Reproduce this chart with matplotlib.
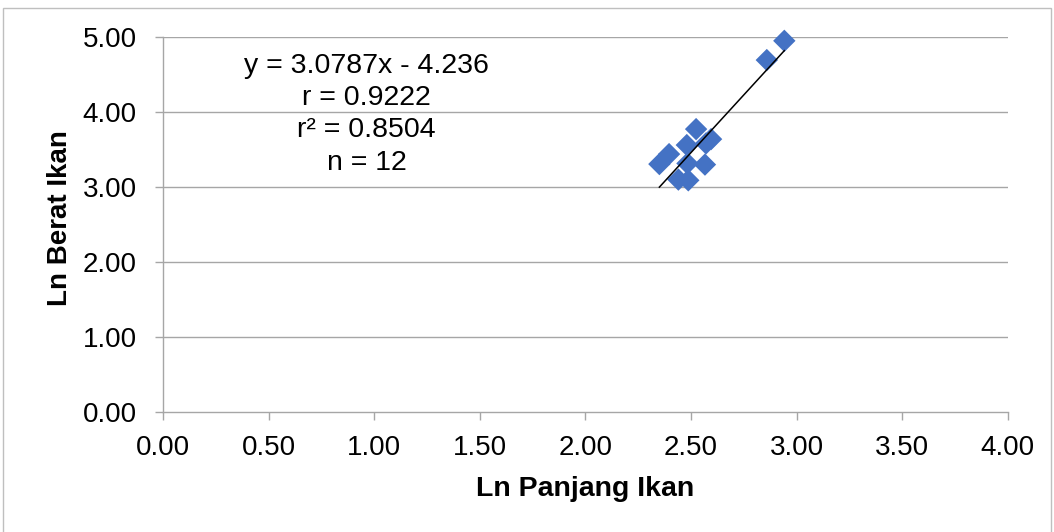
import matplotlib.pyplot as plt
from matplotlib.patches import Rectangle

plt.rcParams['font.family'] = ['Liberation Sans', 'DejaVu Sans']

# ln of fish length and weight (12 fish)
ln_panjang = [2.942, 2.859, 2.524, 2.595, 2.571, 2.480, 2.396, 2.350, 2.483, 2.566, 2.440, 2.487]
ln_berat = [4.953, 4.696, 3.774, 3.640, 3.583, 3.561, 3.440, 3.307, 3.316, 3.300, 3.100, 3.090]

# regression results
slope = 3.0787
intercept = -4.236
r_value = 0.9222
r_squared = 0.8504

x_ticks = [0.0, 0.5, 1.0, 1.5, 2.0, 2.5, 3.0, 3.5, 4.0]
y_ticks = [0.0, 1.0, 2.0, 3.0, 4.0, 5.0]

fig = plt.figure(figsize=(10.54, 5.32), dpi=100)
ax = fig.add_axes([0.155, 0.2261, 0.801, 0.7038])

grid_col = '#a6a6a6'
for yv in y_ticks[1:]:
    ax.axhline(yv, color=grid_col, lw=1.0, zorder=0)

ax.scatter(ln_panjang, ln_berat, marker='D', s=130, color='#4472c4',
           edgecolors='none', zorder=3, clip_on=False)

# trend line over the range of the data
x0, x1 = min(ln_panjang), max(ln_panjang)
ax.plot([x0, x1], [slope * x0 + intercept, slope * x1 + intercept],
        color='black', lw=1.1, zorder=4, clip_on=False)

ax.set_xlim(0, 4)
ax.set_ylim(0, 5)
ax.set_xticks(x_ticks)
ax.set_yticks(y_ticks)
ax.set_xticklabels([f'{v:.2f}' for v in x_ticks])
ax.set_yticklabels([f'{v:.2f}' for v in y_ticks])
ax.tick_params(axis='both', labelsize=20, color=grid_col, length=6, width=1.0)
ax.tick_params(axis='x', pad=11)
ax.tick_params(axis='y', pad=13)

for side in ['top', 'right']:
    ax.spines[side].set_visible(False)
for side in ['left', 'bottom']:
    ax.spines[side].set_color(grid_col)
    ax.spines[side].set_linewidth(1.0)

ax.set_xlabel('Ln Panjang Ikan', fontsize=20.5, fontweight='bold')
ax.set_ylabel('Ln Berat Ikan', fontsize=20, fontweight='bold')
ax.xaxis.set_label_coords(0.5, -0.172)
ax.yaxis.set_label_coords(-0.1076, 0.517)

label = (f'y = {slope}x - {abs(intercept)}\n'
         f'r = {r_value}\n'
         f'r² = {r_squared}\n'
         f'n = {len(ln_panjang)}')
ax.text(0.963, 4.79, label, fontsize=20.5, ha='center', va='top', linespacing=1.31)

fig.patches.append(Rectangle((0.003, -0.01), 0.994, 0.995, transform=fig.transFigure,
                             fill=False, edgecolor='#bfbfbf', lw=1.0))

fig.savefig('out.png', dpi=100)
